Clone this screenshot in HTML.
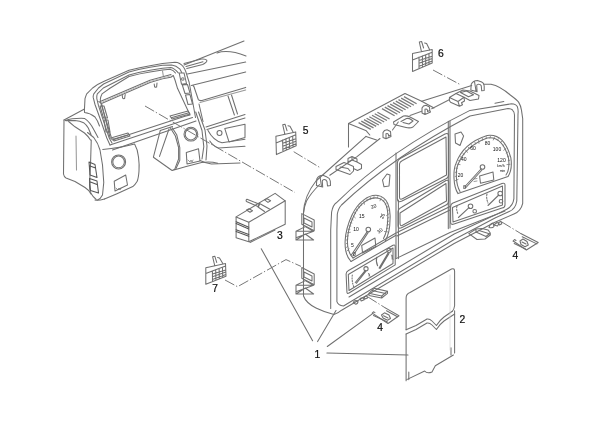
<!DOCTYPE html>
<html><head><meta charset="utf-8">
<style>
html,body{margin:0;padding:0;background:#fff;}
body{width:600px;height:424px;overflow:hidden;}
svg{display:block;}
text{font-family:"Liberation Sans",sans-serif;fill:#111;}
</style></head><body>
<svg width="600" height="424" viewBox="0 0 600 424" style="will-change:transform">
<defs><filter id="sb" x="-5%" y="-5%" width="110%" height="110%"><feGaussianBlur stdDeviation="0.3"/></filter></defs>
<rect width="600" height="424" fill="#fff"/>
<g filter="url(#sb)">
<g fill="none" stroke="#707070" stroke-width="1.05" stroke-linejoin="round" stroke-linecap="round">
<!-- ===== DASHBOARD ===== -->
<!-- far-left pod -->
<path d="M64,120 L63.5,174 Q64,177 66,178 L75,181.5 L85,187.5 Q89,190 91,194"/>
<path d="M64,120 L84.5,109 L84.5,112.5 Q90,113 95,117 Q98,121 99.5,126"/>
<path d="M65.4,120.5 Q72,118 84.5,118.4 Q90,122 94,130 L98,137.5"/>
<path d="M68.6,121.5 L75,126.8 L84.5,133 Q88,136 90.5,140"/>
<path d="M65.7,120.6 L75,120.6 Q80,121 83.6,122.7 Q86,124.5 88.3,128 L91,134.5"/>
<path d="M76,136 L76.5,170" stroke="#999"/>
<!-- bezel -->
<path d="M84.4,110.4 L85,98.6 Q86,95.5 86.7,93.9 L92.6,88 Q98,84 103.6,81.6 L129,70.3 Q140,67.5 150,65.8 L162.5,63.5 L175,62.3 Q180,62.5 183.3,66.7 Q185,69 185.8,71.7 L189.2,82.5 L195.5,117.5"/>
<path d="M110,145 L106.8,138 L99.7,117.5 L95,104.5 L93.2,97.4 Q93,96 93.8,93.9 L98.5,88 L103.6,84 L129,72 Q140,69 150,67.3 L162.5,65.3 L171.7,65 Q176,65.5 180,69.2 L181.7,72.5"/>
<path d="M112,143 L109.2,138 L102.7,118.7 L98.5,105.7 L96.8,98.6 Q96.5,96 97.3,93.9 L103.3,88 L129,75 Q140,72 150,70.3 L162.5,68.3 L170.8,67.5 Q174,68 178.3,72.9"/>
<path d="M111.5,138 L105.6,118.7 L100.9,103.3 L100.3,99.8 Q100.3,97 102,93.9 L110.3,88 L129,76.5 Q140,73.5 150,72 L162.5,70 L170,69.2 Q173.5,70 175.5,73"/>
<path d="M98.8,101.5 L101.5,103.4 L150,82.5 L162.5,78.8 L170.8,77.3 L173.3,75.5 L175,80 L177.5,88.3 L190,115 L185,116.3 L112.5,140 L110,137.5 L101.5,103.4"/>
<path d="M101.4,101 L150,80.3 L171,74.5"/>
<path d="M102,102.2 L150,81.4 L171,75.8" stroke="#bbb" stroke-width="1"/>
<path d="M122.2,95 L122.6,98 Q123.2,99 124.6,98.6 L125.2,94.5 M154.2,84 L154.6,86.6 Q155.2,87.5 156.6,87.1 L157,83"/>
<path d="M162.5,70.8 L163.3,75.8" stroke="#999"/>
<path d="M179.2,73 L184,72.9 L186.5,83.5 L181.5,84.2 Z M182.3,85 L187.5,84.5 L190,93 L185,93.5 Z M185.5,95 L190,94.5 L192.5,104 L188,104.5 Z"/>
<circle cx="182.8" cy="79" r="1.3" stroke="#777"/>
<path d="M100,106 L104,106 L107.5,118 L103.5,118 Z M104,120 L108,120 L110,132 L106,132 Z"/>
<path d="M112.5,137.5 L128,133 L130,136 L114,141 Z M114,139 L128,135" />
<path d="M170,116 L188,111 L190,114 L172,119 Z M172,117.5 L188,113"/>
<path d="M110,145 L192.5,117.5"/>
<path d="M112.5,150 L196,121"/>
<!-- lower-left pod -->
<path d="M87.5,132.5 L93.75,137.5 Q98,143 100,150 L102.5,165 L103.75,182.5 L102.5,195 Q100.5,199 97.5,200"/>
<path d="M91.25,140 Q91,150 90.5,165 L89.5,185 Q89.5,191 91.25,193.75 Q93,197 96.25,199.5"/>
<path d="M102.7,149.5 Q120,148 134.6,144 Q138,150 138.5,157 Q139.5,165 139,171 Q138.5,178 137.2,181.3 Q135,185 132.8,186.6 L117,193.7 L104.5,199"/>
<path d="M95,200 Q98,201 104.5,199"/>
<circle cx="118.6" cy="161.9" r="7"/>
<circle cx="118.6" cy="161.9" r="5.8"/>
<path d="M114.2,181.3 L125.7,175 L127.5,185 L115,191 Z"/>
<path d="M116,188 L118,190 L119,188 L120,190 L121,188" stroke-width="0.7"/>
<path d="M89,162 L95,164.5 L97,177.5 L90,175 Z M89.5,178.5 L97,181 L98.5,193 L90.5,190.5 Z M90,166 L95.5,168 M90.5,182 L97,184.5" stroke="#555"/>
<!-- middle leg -->

<path d="M160.3,130.4 L153.4,157.2 L171.7,170.2"/>
<path d="M160.3,130.4 L172.5,126.5"/>
<path d="M169,129 L159.5,156.4"/>
<path d="M170.3,127.7 L175.4,136 L178.6,147.5 L178.6,159 L174.75,169.1 L172.2,170.4 L186.2,166.6 L201.6,162.5 Q210,161 217.7,163.3"/>
<path d="M172.2,127.7 L176.7,134.7 L179.8,147.5 L179.8,160.2 L176,168.5"/>
<circle cx="190.9" cy="134.2" r="6.9"/>
<circle cx="190.9" cy="134.2" r="5.7"/>
<path d="M186.3,152.6 L198.5,148.7 L200,161 L187,164 Z"/>
<path d="M188,160 L190,162 L191,160 L192,162 L193,160" stroke-width="0.7"/>
<path d="M195.7,112 L202,130.5 L203.8,146.6 L202,159"/>
<path d="M198.5,112 L205,130 L207,146 L206,160"/>
<path d="M200,160.5 Q205,163 211.5,164 L240,163"/>
<!-- right dash -->
<path d="M184,65 L244,41"/>
<path d="M217,53 Q228,49 246,56"/>
<path d="M184,63.5 L201.5,59.1 Q206,58.8 206.8,60.3 Q207,61.5 206.2,62.1 Q204.5,63.7 202.7,64.4 L186.8,68.6 M186,66.5 L203,61.8"/>
<path d="M187.4,73.9 L245.7,62.1"/>
<path d="M191.3,85.4 L245.7,72"/>

<path d="M193,85.5 Q194.2,86.5 194.4,88 L198.3,99.5 Q199,101 202,100.5 L245.7,87.4"/>
<path d="M228,96 L234.4,115 M231.5,95 L237.5,114"/>
<path d="M200,102.5 L245.7,90" stroke="#999"/>
<path d="M199,104 L203,121.5"/>
<path d="M206,126.9 L245,114.5 M207,129.5 L245,118"/>
<path d="M208,130.4 Q213,140 222,142.8 L245,139.2"/>
<circle cx="219.5" cy="133" r="2.5"/>
<path d="M224.8,128.6 L245,124.2 L245,137.5 L229,141.9 Z"/>
<path d="M209.8,141 Q213,146 218.6,148 L245,146.3"/>
<!-- ===== CLUSTER ===== -->
<!-- housing box -->
<path d="M348.5,147 L348.5,123.5 L405,93.5 L421.7,101.3 L434,108"/>
<path d="M348.5,123.5 L366.3,130.8 L369.8,135"/>
<path d="M366,136.4 L376.5,140"/>
<g stroke-width="1.3" stroke="#7a7a7a" stroke-linecap="butt">
<path d="M358.6,122.6 L370.8,129.4 M361.3,121.1 L373.5,127.9 M364.0,119.6 L376.2,126.4 M366.6,118.2 L378.8,125.0 M369.3,116.7 L381.5,123.5 M372.0,115.2 L384.2,122.0 M374.7,113.7 L386.9,120.5 M377.4,112.2 L389.6,119.0"/>
<path d="M382.0,108.6 L394.6,115.8 M384.8,107.1 L397.4,114.3 M387.5,105.6 L400.1,112.8 M390.2,104.1 L402.9,111.3 M393.0,102.6 L405.6,109.8 M395.8,101.1 L408.4,108.3 M398.5,99.6 L411.1,106.8 M401.2,98.1 L413.9,105.3 M404.0,96.6 L416.6,103.8"/>
</g>
<!-- shell silhouette -->
<path d="M366,136.4 L322.7,175 Q316,181 316,181 Q304,196 303.5,213 L303.5,296 Q306,303 316,308 Q325,312.5 334,314.4 Q338,313.5 341.6,310.2 L454.2,243.5 L495,222.2 L513.9,214 Q521,211 522.7,203.3 L522.7,118.6 L521.5,110.3 Q521,106 518.6,102.1 Q517,100 510.3,95 Q500,86 491,84.2 L484,84.2"/>
<path d="M421.7,101.3 L471.7,85.5"/>
<path d="M319.6,184.5 Q311,193 306.5,201 Q304,207 303.5,213"/>
<path d="M329.8,175.3 L356.7,156.9 L380,138.5"/>
<!-- face outlines -->
<path d="M330.7,308.5 L330.7,230 L331.6,212 Q333,205 336.3,202.8 Q390,150 470,110.4 L511.5,103.8 Q516,104 517.4,106.8 Q518.5,110 518,113.9 L516.8,201 Q515.5,209 509.2,211.6 L495,218 L454.2,239.5 L343.5,306 Q338,305.5 336.9,301.7 L336.9,230 L337.3,214 Q338.5,208 341.5,205 Q392,157 470,116 L508,108.6 Q512,109 512.7,110.3 Q514.5,112 514.5,115 L513.9,198.6 Q513,206 506.8,209.2 L495,215.1 L454.2,234 L349,297"/>
<path d="M495,103.3 L503.8,101.5"/>
<!-- clips on top -->
<path d="M316.4,185.5 L316.8,179 Q318.5,175.3 323,175.3 L327,177 Q329.8,178 330.3,181 L330.5,185.5 L327.5,186 L327,181.5 Q326,179.3 324,179.5 Q322,180 322.3,181.5 L322.7,187 Z M320,176.5 L321.5,186.5"/>
<path d="M383,137.5 L383,132.5 Q384,130 387,129.8 L390.5,131.5 L390.8,135 L388.5,136 L388.5,134.5 Q387.5,133 386,133.8 L386,138.8 Z M386,138.8 L391,136.5 L390.8,135"/>
<path d="M422,113 L422,108 Q423,105.5 426,105.3 L429.5,107 L429.8,110.5 L427.5,111.5 L427.5,110 Q426.5,108.5 425,109.3 L425,114.5 Z M425,114.5 L430.5,112 L429.8,110.5"/>
<path d="M470.8,90 L471.25,84.2 Q473,80.5 477.5,80.4 L481.7,82.1 Q484,83 484.2,86 L484.2,90.4 L481.7,90.8 L481.25,85.8 Q480.5,84 478.3,84.2 Q476.5,84.5 476.7,85.8 L477.1,91.7 Z M474.5,81.5 L476,90.8"/>
<!-- connector slots -->
<path d="M336,166.5 L344,162.5 L348,164 L348,158.5 L352,156.5 L357,159 L357,162 L361.5,164.5 L361.5,168.5 L357.5,170.5 L353.5,168.5 L353.5,171 L350,174.5 L336,169.5 Z M348,164 L353.5,166.5 L353.5,168.5 M352,156.5 L352,160 L357,162 M352,160 L348,162 M340,167 L348,168.5 L350,171"/>

<path d="M393.5,122 L403.5,116 Q407,115.5 410,117 L418.5,121.5 L413,127 Q410,128.5 406,127.5 L394,124.5 Z M401,121.5 L406.5,118.5 Q409,118 411,119.5 L413,121 L409,124 L403,122.5"/>
<path d="M449.4,97.5 L456,93.5 L464,97.2 L464.5,101 L461.5,102.8 L462.5,104.8 L459.5,106.3 L450.5,102.2 Q449.4,101 449.4,100 Z M449.4,97.5 L458,101.5 L464,97.2 M458,101.5 L459.5,106.3"/>
<path d="M456,93.5 L463,90 L470,91 L479,95.5 L478.5,99 L470,100.5 L464,97.2 M460.5,92.5 L466.5,91 L473.5,94.8 L468.5,96.8 Z"/>
<path d="M392.5,130 L398.3,122 M410,115.5 L421.7,111.3 M431.7,108.8 L449.2,99.7" stroke="#777"/>
<!-- center panels -->
<path d="M396,153 L396,258.6 M398.4,200 L398.4,258.6"/>
<path d="M448.3,121.3 L448.3,228.6 M450,121 L450,228"/>
<path d="M397.4,163 Q397.4,160 401,158 L445,134 Q448.6,132.5 448.6,136 L448.6,175 Q448.6,178 445.5,179 L402,201 Q397.4,203 397.4,199 Z"/>
<path d="M399.5,164 Q399.5,162 402.5,160.5 L446,137 L446.5,175 L403,198.5 Q399.5,200.5 399.5,197 Z"/>
<path d="M398,212 Q398,209 402,207 L446,180.5 Q448.7,179.5 448.7,182.5 L448.7,201 Q448.7,204 446,205 L402,227.5 Q398,229.5 398,225.5 Z"/>
<path d="M400,213 L446,183.5 L446.5,201 L403,225 Q400,227 400,223 Z"/>
<path d="M397,232.5 L450,206.5 M397,236 L450,210"/>
<!-- diamonds -->
<path d="M382.5,180 L387,174 L390,175 L389,186 L384,186.8 Z"/>
<path d="M455,134 L461,132 L463.6,136 L460,145.5 L455.5,143 Z"/>
<!-- left gauge -->
<path d="M351,261.5 C342,252 344,232 352,215 C358,202 369,194 378,195.5 C387,197 391,207 390,220 C390,230 388,236 385.3,240.8"/>
<path d="M351,261.5 L396,235.2 M353,258 L396,233"/>
<path d="M353,258 C345,250 346,233 353.5,216.5 C359,204 369,197 377.5,198 C385.5,199.5 388.5,208 387.7,220 C387.5,229 386,234 383.5,238.5"/>
<path d="M351.3,255 L367.4,231.4 M352.8,256 L368.2,232.5"/><circle cx="368.3" cy="229.5" r="2.3"/>
<path d="M361.7,245.5 L375,238 L375.8,246.5 L362.6,253 Z"/>
<!-- lower left panel -->
<path d="M346.1,274 Q346.1,271.8 348.5,270.5 L393,245.2 Q395.2,244.2 395.2,246.7 L395.2,264.9 L349,293 Q346.9,294.3 346.9,291.5 Z"/>
<path d="M348.3,274.5 L393,248 L393,263.5 L349,290.5 Z"/>
<path d="M355.3,282.5 L365.3,270.3 M356.3,283.3 L366,271.2"/><circle cx="366" cy="268.7" r="2.1"/>
<path d="M368.4,273.3 L370,276.4 M369.5,274 L369,276" stroke-width="0.8"/>
<path d="M352.3,275 Q351.5,281 353.8,287" stroke-dasharray="1.2,1.5"/>
<path d="M379.1,268 L388.3,252.6 M380,268.6 L389,253.5"/><circle cx="389" cy="250.3" r="2.1"/>
<path d="M391.4,255 L393,259.5 M392.5,255.5 L392,259" stroke-width="0.8"/>
<path d="M376.8,257.2 Q375.5,261 377.6,265.7" stroke-width="1.1"/>
<path d="M396,258.6 L450,232.5 L505,211"/>
<!-- speedo -->
<path d="M458,193.6 C453,186 453,170 456,163.4 C460,152 470,141 487.2,135.5 C498,134 506,140 510.8,157.7 C512,165 511,172 508,176.6 Z"/>
<path d="M460,191.5 C455.5,184 455.5,170 458,164.5 C462,154 471,144 487.2,138 C497,136.5 504,142 508.5,158 C509.5,165 509,171 506,175"/>
<path d="M464.5,187 L481,169 M465.5,188 L482,170"/><circle cx="482.5" cy="167" r="2.3"/>
<path d="M479.6,176 L493,172 L493.8,180 L480.5,183.2 Z"/>
<path d="M474,179 L477,178.5 M474,181.5 L477,181" stroke-width="0.7"/>
<!-- lower right panel -->
<path d="M450.6,207 Q450.6,204 453,203 L502,183.5 Q505,182.5 505,185 L505,205 Q505,207.6 502,208 L454,224 Q450.6,225.3 450.6,222 Z"/>
<path d="M452.5,207.5 L502.5,186 L502.5,205 L453,222 Z"/>
<path d="M458.4,217.5 L469,207.6"/><circle cx="470.5" cy="206.2" r="2.3"/><circle cx="474.7" cy="211.2" r="1.8"/>
<path d="M457,206 Q456,210 458,214" stroke-dasharray="1.5,1.5"/>
<path d="M488,205.5 L498.8,195"/><circle cx="500.2" cy="193.5" r="2.3"/><circle cx="501" cy="201.2" r="1.8"/>
<path d="M487,194 Q486,198 488,203" stroke-dasharray="1.5,1.5"/>
<!-- under clips -->
<path d="M468.8,233.6 L476,229 L482,228.5 L488,229.9 L490.3,233 L490.3,235 L485,239 L477,239.5 Z M476,229 L476,232 L486,236.5 L490.3,233 M479,230.5 L488.5,233.5"/>
<path d="M489,227.5 Q490,223.5 493,223 L494,226.5 Q492.5,228.5 489,227.5 Z M494,225 L497,222.5 L499,223.5 L497.5,226 Z M498,223 L501,221.2 L501.8,223.8 L499.5,225 Z"/>
<path d="M368.8,293.3 L374.2,288.3 L387.5,291.2 L387.5,293.3 L381.7,298 L369,295.5 Z M368.8,293.3 L381.7,296 L387.5,291.2 M381.7,296 L381.7,298 M372,290.6 L385.5,293.4 M376,288.8 L387,291.2"/>
<path d="M353.3,302.5 Q354,300.5 356,300.5 L358,301.5 Q358,304 355.5,304.2 Z M360,298.6 L363,297.5 L364.2,299.8 L361.2,301 Z M364.2,296.8 L367,296 L367.5,298 L365,299 Z"/>
<!-- left clips -->
<path d="M301.8,213.6 L314.2,220 L314.2,230.7 L301.8,224.2 Z M304,218 L312,222 L312,227 L304,223 Z"/>
<path d="M296,231.3 L305.3,226.6 L313.6,231.3 Z M313.6,231.3 L296,237.8 M296,240 L305.3,234 L313.6,240 Z M296,231.3 L296,240"/>
<path d="M301.8,267.5 L314.2,274 L314.2,284.7 L301.8,278.2 Z M304,272 L312,276 L312,281 L304,277 Z"/>
<path d="M296,285.3 L305.3,280.6 L313.6,285.3 Z M313.6,285.3 L296,291.8 M296,294 L305.3,288 L313.6,294 Z M296,285.3 L296,294"/>
<!-- TICKS -->
<path d="M346.9,251.1 L349.2,248.9 M346.3,247.5 L347.7,246.3 M346.1,243.8 L347.6,242.8 M346.2,240.1 L347.9,239.3 M346.6,236.4 L348.4,235.9 M347.3,232.8 L350.4,232.3 M348.1,229.3 L349.9,229.3 M349.1,225.8 L350.9,226.1 M350.3,222.4 L351.9,223.0 M351.5,219.0 L353.1,219.9 M353.0,215.6 L355.3,217.8 M354.6,212.4 L355.7,213.8 M356.5,209.2 L357.4,210.8 M358.7,206.3 L359.4,207.9 M361.2,203.5 L361.6,205.3 M363.9,201.1 L364.4,204.3 M367.0,199.0 L367.1,200.8 M370.4,197.5 L370.3,199.3 M374.0,196.6 L373.7,198.4 M377.7,196.7 L377.2,198.4 M381.2,197.8 L380.0,200.8 M384.1,200.0 L383.3,201.6 M386.3,203.0 L385.3,204.5 M387.8,206.4 L386.6,207.8 M388.7,210.0 L387.4,211.3 M389.1,213.7 L386.5,215.6 M389.1,217.4 L387.6,218.3 M388.9,221.1 L387.2,221.8 M388.7,224.7 L386.9,225.1 M388.3,228.3 L386.5,228.4 M387.6,231.9 L384.4,231.5" stroke-width="0.7"/>
<path d="M455.3,180.7 L458.2,179.3 M455.1,176.5 L456.8,175.9 M455.2,172.4 L457.0,172.0 M455.8,168.2 L457.6,168.2 M456.9,164.2 L460.1,164.6 M458.5,160.4 L460.2,160.9 M460.4,156.8 L462.1,157.5 M462.8,153.3 L464.2,154.4 M465.4,150.2 L467.7,152.4 M468.4,147.3 L469.4,148.8 M471.6,144.7 L472.3,146.3 M475.0,142.3 L475.5,144.0 M478.6,140.3 L479.0,143.4 M482.4,138.5 L482.4,140.3 M486.3,136.9 L486.1,138.7 M490.4,136.4 L489.9,138.2 M494.5,137.0 L493.3,140.0 M498.3,138.7 L497.5,140.3 M501.6,141.3 L500.5,142.8 M504.1,144.6 L502.9,145.9 M506.2,148.3 L503.7,150.3 M507.8,152.1 L506.2,153.1 M509.1,156.1 L507.4,156.8 M509.9,160.2 L508.2,160.6 M510.1,164.3 L506.9,164.6" stroke-width="0.7"/>

</g><g font-size="5" fill="#333" text-anchor="middle" style="font-family:'Liberation Sans',sans-serif">
<text x="354.5" y="256">0</text><text x="352.5" y="246.5">5</text><text x="356" y="230.5">10</text><text x="361.7" y="218">15</text><text x="373.5" y="208" transform="rotate(-20 373.5 206)">20</text><text x="382" y="218" transform="rotate(-70 382 216)">25</text><text x="379.6" y="232.5" transform="rotate(-40 379.6 230.5)">30</text>
<text x="464.5" y="189">0</text><text x="460.5" y="176.5">20</text><text x="463.8" y="160.5">40</text><text x="473" y="150">60</text><text x="487.5" y="144.5">80</text><text x="497" y="151">100</text><text x="501.5" y="161.5">120</text>
<text x="500.8" y="167" font-size="3.5">km/h</text><text x="502.5" y="171.8" font-size="3.5">min</text>
</g><g fill="none" stroke="#707070" stroke-width="1.05" stroke-linejoin="round" stroke-linecap="round">
<!-- /TICKS -->
<!-- ===== CONNECTORS ===== -->
<path d="M275.9,136.3 L295.7,131.9 L296.2,145.7 L276.4,154.6 Z M276.1,142.9 L295.8,134.7 M282.6,139.9 L282.9,151.7 M285.9,138.4 L286.3,149.3 M289.3,137.5 L289.6,147.9 M292.7,136.5 L293.0,146.4 M282.7,143.3 L295.9,138.8 M282.8,146.3 L296.0,141.3 M282.9,149.3 L296.1,143.8 M284.8,134.0 L282.7,124.7 L285.0,124.2 L287.0,130.7 M288.0,125.7 L290.0,126.2 L293.3,132.4"/>
<path d="M412.5,53.4 L432.2,49.6 L432.2,62.9 L412.5,71.4 Z M412.5,59.9 L432.2,52.3 M419.0,57.1 L419.0,68.6 M422.4,55.7 L422.4,66.4 M425.7,54.9 L425.7,65.0 M429.0,54.0 L429.0,63.6 M419.0,60.4 L432.2,56.2 M419.0,63.3 L432.2,58.6 M419.0,66.3 L432.2,61.0 M421.4,51.4 L419.3,42.0 L421.6,41.5 L423.6,48.0 M424.6,43.0 L426.6,43.5 L429.8,50.1"/>
<path d="M205.8,267.7 L225.5,263.5 L226.0,276.2 L205.8,284.2 Z M205.8,273.6 L225.6,266.0 M212.4,270.9 L212.5,281.6 M215.7,269.5 L215.9,279.5 M219.1,268.7 L219.3,278.1 M222.5,267.8 L222.7,276.8 M212.4,273.9 L225.8,269.9 M212.4,276.7 L225.8,272.1 M212.4,279.4 L225.9,274.4 M214.7,265.5 L212.6,256.7 L214.8,256.2 L216.7,262.4 M217.6,257.6 L219.5,258.1 L223.1,264.0"/>

<!-- 3 -->
<path d="M236.1,216.9 L248.8,222.3 L285.2,200.8 L275.1,193.4 Z"/>
<path d="M236.1,216.9 L236.1,237.8 L248.8,241.8 L285.2,224.3 L285.2,200.8 M248.8,222.3 L248.8,241.8"/>
<path d="M236.1,221.8 L248.8,227.2 M236.1,223.6 L248.8,229 M236.1,229.8 L248.8,234.5 M236.1,231.6 L248.8,236.3" stroke="#555"/>
<path d="M247,199.3 L259.5,204.2 L258.5,206.8 L246.5,201.6 Q245.6,200 247,199.3 Z"/>
<path d="M246.5,210 L249,208.8 L252.5,210.8 L250,212.3 Z M264.6,199.8 L267,198.8 L270.6,200.8 L268,202.4 Z"/>
<path d="M259.5,203.5 L269.5,209 M258,207 L264.5,211.5 M259.5,203 L258,207"/>
<!-- clip 4 near plate -->
<path d="M372.3,313.1 L388,323.5 L399,315.7 L385.3,307.9"/>
<path d="M373.5,315.5 L387.5,322 M386.5,310.8 L397.5,316.8 M372.3,313.1 L373.5,311.8 L375,312.6"/>
<path d="M381.5,315 L384.5,312.8 L389,315 L390.5,318.5 L387.5,320.3 L383,318 Z M383.5,315.8 L388,318"/>
<!-- clip 4 right -->
<path d="M513.2,241 L526.4,250 L538.2,242.5 L520.75,233.5"/>
<path d="M514.2,243.5 L525.5,249 M522.2,236.8 L536.8,243.9 M513.2,241 L514.5,239.5 L516,240.5"/>
<path d="M520,241 L523,239 L527,241.5 L528.3,245 L525,246.7 L521,244.5 Z M522,242 L526,244"/>

<!-- ===== PLATE ===== -->
<path d="M406.1,329.7 L406.1,298 Q406.1,294 410,292.5 L451.5,269 Q454.6,267.8 454.6,271.5 L454.6,305.7 Q454,310 452.3,311.3"/>
<path d="M406.1,329.7 L416,325.5 L427,319 Q429.5,318.5 432,321 L436.4,325.5 Q440,320 444,317 L452.3,311.3"/>
<path d="M406.1,334 L416,329.5 L427,323 Q429.5,322.5 432,325 L436.4,329.5 Q440,324 444,321 L454.6,314"/>
<path d="M406.1,334 L406.1,380.7 M454.6,310.8 L454.6,353"/>
<path d="M406.7,379.6 L424.7,371 Q427,374 432,372 L435.3,365.8 L453.4,355"/>
<path d="M408.8,372 L408.8,379.6 M451,347.8 L451,355"/>
<path d="M450,275 L450,350" stroke="#ccc" stroke-width="0.6"/>

<!-- ===== LEADER LINES ===== -->
<path d="M261.25,248.75 L312.6,340.7"/>
<path d="M336,310.5 L317.6,341.6"/>
<path d="M327.3,346.5 L372.3,313.8"/>
<path d="M326.9,353.1 L408,355"/>
<path d="M250,242.5 L275,230"/>
</g>
<!-- dashed center lines -->
<g fill="none" stroke="#707070" stroke-width="0.95" stroke-dasharray="10.5,2,1.3,2.2">
<path d="M145,106 L294.8,192.4"/>
<path d="M293.7,151.7 L320,167.6"/>
<path d="M433,70 L461,85"/>
<path d="M225,280 L237.5,286.7 L286,259.6 L301,266.4"/>
<path d="M367.8,296.9 L385.3,307.9"/>
<path d="M501.8,222 L520.75,233.5"/>
</g>
<g font-size="10.3" stroke="#111" stroke-width="0.22">
<text x="302.8" y="134.2">5</text>
<text x="438" y="56.9">6</text>
<text x="277" y="238.9">3</text>
<text x="212.3" y="292.0">7</text>
<text x="377.3" y="331.0">4</text>
<text x="512.4" y="259.4">4</text>
<text x="459.4" y="322.6">2</text>
<text x="314.4" y="358.0">1</text>
</g>
</g>
</svg>
</body></html>
